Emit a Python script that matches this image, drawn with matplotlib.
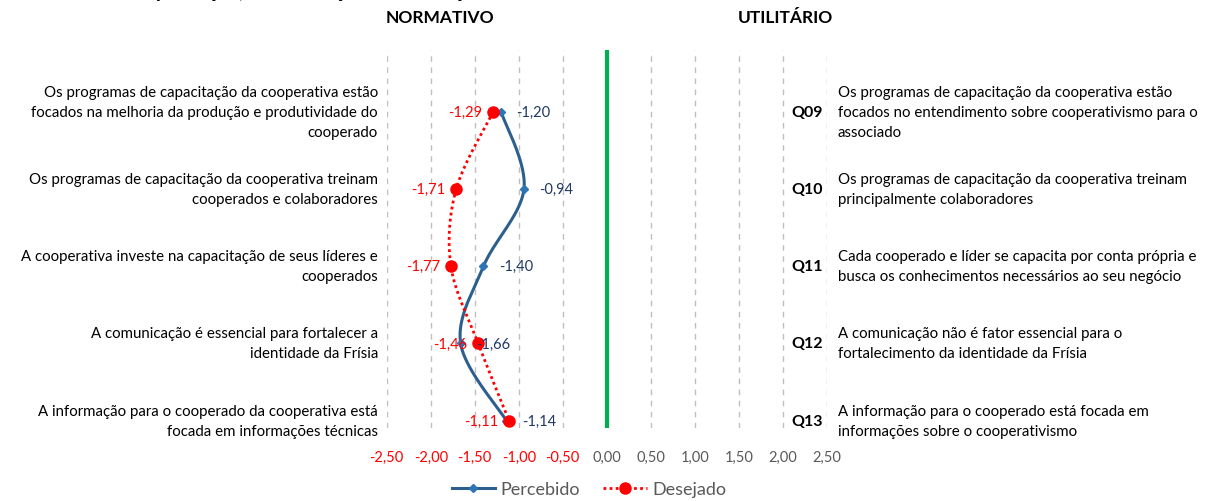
import numpy as np
import matplotlib
matplotlib.use('Agg')
import matplotlib.pyplot as plt
import matplotlib.transforms as mtransforms
from matplotlib.lines import Line2D

plt.rcParams['font.family'] = ['Lato', 'DejaVu Sans']

# questions Q09..Q13, top to bottom
codes = ['Q09', 'Q10', 'Q11', 'Q12', 'Q13']
normativo = [
    'Os programas de capacitação da cooperativa estão\nfocados na melhoria da produção e produtividade do\ncooperado',
    'Os programas de capacitação da cooperativa treinam\ncooperados e colaboradores',
    'A cooperativa investe na capacitação de seus líderes e\ncooperados',
    'A comunicação é essencial para fortalecer a\nidentidade da Frísia',
    'A informação para o cooperado da cooperativa está\nfocada em informações técnicas',
]
utilitario = [
    'Os programas de capacitação da cooperativa estão\nfocados no entendimento sobre cooperativismo para o\nassociado',
    'Os programas de capacitação da cooperativa treinam\nprincipalmente colaboradores',
    'Cada cooperado e líder se capacita por conta própria e\nbusca os conhecimentos necessários ao seu negócio',
    'A comunicação não é fator essencial para o\nfortalecimento da identidade da Frísia',
    'A informação para o cooperado está focada em\ninformações sobre o cooperativismo',
]
percebido = [-1.20, -0.94, -1.40, -1.66, -1.14]
desejado = [-1.29, -1.71, -1.77, -1.46, -1.11]
xticks = [-2.5, -2.0, -1.5, -1.0, -0.5, 0.0, 0.5, 1.0, 1.5, 2.0, 2.5]

ypos = np.arange(len(codes), 0, -1).astype(float)

W, H = 1219, 502
BLUE = '#2D5F8E'
BLUE_MK = '#2E75B6'
NAVY = '#1F3864'
RED = '#FF0000'
GRAY = '#595959'


def smooth(xs, ys, sx=88.0, sy=77.25, n=40):
    # Catmull-Rom style bezier smoothing, done in (roughly) screen units
    p = np.column_stack([np.asarray(xs) * sx, np.asarray(ys) * sy])
    pp = np.vstack([p[0], p, p[-1]])
    out = []
    t = np.linspace(0, 1, n)[:, None]
    for i in range(1, len(pp) - 2):
        p0, p1, p2, p3 = pp[i - 1], pp[i], pp[i + 1], pp[i + 2]
        c1 = p1 + (p2 - p0) / 6.0
        c2 = p2 - (p3 - p1) / 6.0
        seg = ((1 - t) ** 3) * p1 + 3 * ((1 - t) ** 2) * t * c1 + 3 * (1 - t) * t ** 2 * c2 + t ** 3 * p2
        out.append(seg if i == 1 else seg[1:])
    out = np.vstack(out)
    return out[:, 0] / sx, out[:, 1] / sy


def fmt(v):
    return ('%.2f' % v).replace('.', ',')


fig = plt.figure(figsize=(W / 100.0, H / 100.0), dpi=100)
left, right = 386.7 / W, 826.7 / W
bottom, top = 1 - 429.0 / H, 1 - 51.0 / H
ax = fig.add_axes([left, bottom, right - left, top - bottom])
ax.set_xlim(-2.5, 2.5)
ax.set_ylim(0.905, 5.80)

for xv in xticks:
    if xv == 0:
        ax.axvline(0, color='#00B050', lw=3, zorder=2)
    else:
        ax.axvline(xv, color='#BFBFBF', lw=1, ls=(0, (4, 4)), zorder=1)

sx, sy = smooth(percebido, ypos)
ax.plot(sx, sy, color=BLUE, lw=2.2, zorder=3)
ax.plot(percebido, ypos, ls='none', marker='D', ms=4, color=BLUE_MK, zorder=4)

dx, dy = smooth(desejado, ypos)
ax.plot(dx, dy, color=RED, lw=2, ls=(0, (1, 1.2)), zorder=3)
ax.plot(desejado, ypos, ls='none', marker='o', ms=8, color=RED, zorder=4)

for xv, yv in zip(percebido, ypos):
    ax.annotate(fmt(xv), (xv, yv), xytext=(11, 0), textcoords='offset points',
                ha='left', va='center', color=NAVY, fontsize=10.5, zorder=5)
for xv, yv in zip(desejado, ypos):
    ax.annotate(fmt(xv), (xv, yv), xytext=(-8, 0), textcoords='offset points',
                ha='right', va='center', color=RED, fontsize=10.5, zorder=5)

ax.set_xticks(xticks)
ax.set_xticklabels([fmt(v) for v in xticks], fontsize=10.5)
for lab, v in zip(ax.get_xticklabels(), xticks):
    lab.set_color(RED if v < 0 else GRAY)
ax.tick_params(axis='x', length=0, pad=16)
ax.set_yticks([])
for s in ax.spines.values():
    s.set_visible(False)
ax.patch.set_alpha(0)

# question texts on both sides
tr = mtransforms.blended_transform_factory(fig.transFigure, ax.transData)
for code, ltxt, rtxt, yv in zip(codes, normativo, utilitario, ypos):
    ax.text(378.0 / W, yv, ltxt, transform=tr, ha='right', va='center',
            fontsize=10.8, color='black', linespacing=1.55, clip_on=False)
    ax.text(838.0 / W, yv, rtxt, transform=tr, ha='left', va='center',
            fontsize=10.8, color='black', linespacing=1.55, clip_on=False)
    ax.text(823.0 / W, yv, code, transform=tr, ha='right', va='center',
            fontsize=11.5, fontweight='bold', color='black', clip_on=False)

fig.text(440.0 / W, 1 - 18.0 / H, 'NORMATIVO', ha='center', va='center',
         fontsize=12.5, fontweight='bold')
fig.text(785.0 / W, 1 - 18.0 / H, 'UTILITÁRIO', ha='center', va='center',
         fontsize=12.5, fontweight='bold')
fig.text(309.0 / W, 1 + 2.0 / H, 'Capacitação, Comunicação e Informação', ha='center',
         va='baseline', fontsize=14, fontweight='bold')

handles = [
    Line2D([], [], color=BLUE, lw=2.2, marker='D', ms=4, mfc=BLUE_MK, mec=BLUE_MK),
    Line2D([], [], color=RED, lw=2, ls=(0, (1, 1.2)), marker='o', ms=8),
]
fig.legend(handles, ['Percebido', 'Desejado'], loc='center',
           bbox_to_anchor=(589.0 / W, 1 - 490.0 / H), ncol=2, frameon=False,
           fontsize=13, handlelength=2.4, columnspacing=1.3, handletextpad=0.3,
           labelcolor=GRAY)

fig.savefig('out.png', dpi=100)
